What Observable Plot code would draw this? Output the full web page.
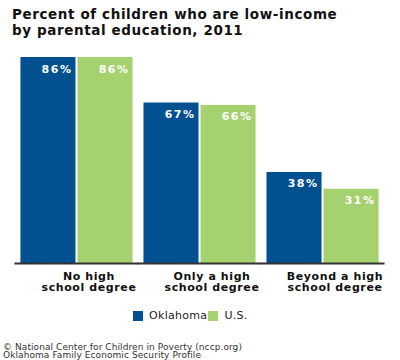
<!DOCTYPE html>
<html>
<head>
<meta charset="utf-8">
<script src="https://cdn.jsdelivr.net/npm/d3@7"></script>
<script src="https://cdn.jsdelivr.net/npm/@observablehq/plot@0.6"></script>
<style>
  html, body { margin: 0; padding: 0; background: #fff; }
  body { width: 400px; height: 360px; overflow: hidden; font-family: "DejaVu Sans", Verdana, sans-serif; }
  #title { position: absolute; left: 12px; top: 6px; font-weight: bold; font-size: 13.5px; line-height: 16px; color: #111; letter-spacing: 0.6px; }
  #chart { position: absolute; left: 0; top: 44px; }
  #chart g[fill="white"] text { letter-spacing: 1.5px; }
  #chart g[fill="#111"] text { letter-spacing: 0.6px; }
  #legend { position: absolute; top: 309px; left: 133px; font-size: 11px; color: #222; display: flex; align-items: center; }
  #legend .sw { display: inline-block; width: 10px; height: 10px; margin-right: 6px; }
  #legend .item { display: inline-flex; align-items: center; margin-right: 1px; letter-spacing: 0.3px; }
  #caption { position: absolute; left: 3px; top: 343px; font-size: 9px; line-height: 8px; color: #333; letter-spacing: 0.08px; }
</style>
</head>
<body>
<div id="title">Percent of children who are low-income<br>by parental education, 2011</div>
<div id="chart"></div>
<div id="legend"></div>
<div id="caption">© National Center for Children in Poverty (nccp.org)<br>Oklahoma Family Economic Security Profile</div>
<script>
const categories = ["No high school degree", "Only a high school degree", "Beyond a high school degree"];
const categoryLabels = ["No high\nschool degree", "Only a high\nschool degree", "Beyond a high\nschool degree"];
const series = ["Oklahoma", "U.S."];
const oklahoma = [86, 67, 38];
const us = [86, 66, 31];
const colors = ["#01508f", "#a5d16f"];

const data = [];
categories.forEach((c, i) => {
  data.push({cat: c, s: series[0], v: oklahoma[i]});
  data.push({cat: c, s: series[1], v: us[i]});
});
const labelData = categories.map((c, i) => ({cat: c, label: categoryLabels[i]}));

const chart = Plot.plot({
  width: 400,
  height: 256,
  marginLeft: 16,
  marginRight: 17,
  marginTop: 13,
  marginBottom: 37,
  style: {fontFamily: "DejaVu Sans, Verdana, sans-serif", background: "transparent"},
  fx: {domain: categories, paddingInner: 0.089, paddingOuter: 0.036, round: false, axis: null, label: null},
  x: {domain: series, paddingInner: 0.035, paddingOuter: 0, round: false, axis: null},
  y: {domain: [0, 86], axis: null},
  color: {domain: series, range: colors},
  marks: [
    Plot.barY(data, {fx: "cat", x: "s", y: "v", fill: "s"}),
    Plot.text(data, {
      fx: "cat", x: "s", y: "v", text: d => d.v + "%",
      fill: "white", fontWeight: "bold", fontSize: 11,
      textAnchor: "end", lineAnchor: "bottom", dx: 24, dy: 15
    }),
    Plot.ruleY([0], {stroke: "#333", strokeWidth: 2, insetLeft: -6, insetRight: -6}),
    Plot.text(labelData, {
      fx: "cat", text: "label", frameAnchor: "bottom",
      fontWeight: "bold", fontSize: 11, fill: "#111",
      lineAnchor: "top", lineHeight: 1, dy: 9, dx: 12
    })
  ]
});
document.getElementById("chart").appendChild(chart);

const legend = document.getElementById("legend");
series.forEach((s, i) => {
  const item = document.createElement("span");
  item.className = "item";
  const sw = document.createElement("span");
  sw.className = "sw";
  sw.style.background = colors[i];
  item.appendChild(sw);
  item.appendChild(document.createTextNode(s));
  legend.appendChild(item);
});
</script>
</body>
</html>
